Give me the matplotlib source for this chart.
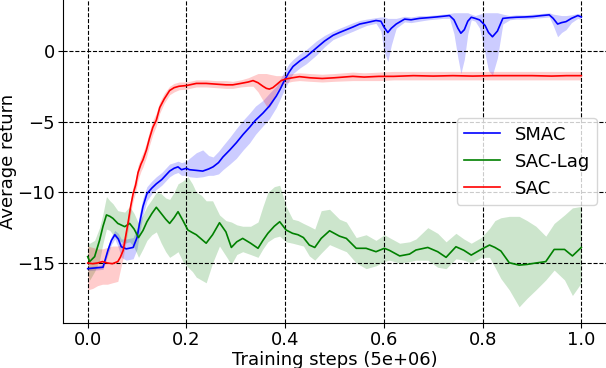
import matplotlib
matplotlib.use("Agg")
import matplotlib.pyplot as plt

# ---------------------------
# Data
# ---------------------------
smac_x = [
    0.000, 0.015, 0.031, 0.041, 0.048, 0.055, 0.062, 0.068, 0.078, 0.092,
    0.100, 0.105, 0.112, 0.120, 0.130, 0.139, 0.150, 0.166, 0.175, 0.183,
    0.190, 0.200, 0.206, 0.220, 0.233, 0.245, 0.254, 0.265, 0.274, 0.288,
    0.301, 0.315, 0.328, 0.340, 0.355, 0.368, 0.382, 0.390, 0.399, 0.408,
    0.416, 0.430, 0.443, 0.463, 0.480, 0.497, 0.510, 0.524, 0.538, 0.551,
    0.565, 0.584, 0.594, 0.600, 0.608, 0.615, 0.625, 0.642, 0.655, 0.672,
    0.690, 0.706, 0.720, 0.733, 0.742, 0.750, 0.756, 0.763, 0.770, 0.777,
    0.785, 0.794, 0.805, 0.812, 0.820, 0.830, 0.841, 0.855, 0.868, 0.885,
    0.902, 0.920, 0.935, 0.943, 0.952, 0.960, 0.969, 0.980, 0.993, 1.000]
smac_mean = [
    -15.40, -15.35, -15.30, -14.10, -13.40, -13.00, -13.30, -13.85, -14.00, -13.90,
    -13.20, -12.20, -11.00, -10.10, -9.70, -9.40, -9.10, -8.50, -8.30, -8.20,
    -8.40, -8.30, -8.40, -8.45, -8.50, -8.35, -8.20, -7.90, -7.50, -7.00,
    -6.50, -5.90, -5.40, -4.90, -4.40, -3.90, -3.20, -2.70, -2.05, -1.50,
    -1.10, -0.70, -0.40, 0.20, 0.70, 1.10, 1.30, 1.50, 1.70, 1.90,
    2.00, 2.15, 2.10, 1.70, 1.30, 1.60, 1.90, 2.25, 2.20, 2.30,
    2.35, 2.40, 2.45, 2.50, 2.20, 1.60, 1.25, 1.50, 2.10, 2.38,
    2.30, 2.19, 1.80, 1.30, 1.00, 1.40, 2.30, 2.35, 2.38, 2.40,
    2.43, 2.50, 2.55, 2.30, 1.90, 2.00, 2.07, 2.30, 2.50, 2.40]
smac_lo = [
    -15.55, -15.50, -15.45, -14.40, -13.70, -13.30, -13.90, -14.60, -14.80, -14.70,
    -14.00, -12.90, -11.60, -10.60, -10.10, -9.80, -9.50, -8.90, -8.70, -8.60,
    -8.80, -8.80, -8.90, -8.95, -8.90, -8.80, -8.80, -8.70, -8.40, -8.00,
    -7.60, -7.00, -6.50, -5.90, -5.30, -4.80, -4.00, -3.40, -2.70, -2.10,
    -1.60, -1.20, -0.90, -0.30, 0.30, 0.80, 1.00, 1.20, 1.40, 1.60,
    1.80, 1.95, 1.40, 0.00, -0.75, 0.40, 1.60, 2.05, 2.00, 2.10,
    2.20, 2.25, 2.30, 2.30, 1.20, -0.50, -1.60, -0.60, 1.20, 2.20,
    2.10, 1.60, -0.20, -1.40, -1.70, -0.50, 1.90, 2.20, 2.25, 2.25,
    2.30, 2.35, 2.40, 1.80, 1.00, 1.30, 1.50, 2.00, 2.30, 2.20]
smac_hi = [
    -15.25, -15.20, -15.10, -13.80, -13.10, -12.70, -12.90, -13.30, -13.30, -13.20,
    -12.50, -11.50, -10.40, -9.60, -9.20, -8.90, -8.60, -8.00, -7.90, -7.80,
    -7.90, -7.80, -7.60, -7.20, -7.00, -7.40, -7.50, -7.10, -6.70, -6.10,
    -5.50, -4.90, -4.40, -3.90, -3.50, -3.00, -2.50, -2.00, -1.40, -0.90,
    -0.60, -0.20, 0.10, 0.70, 1.10, 1.40, 1.60, 1.80, 2.00, 2.15,
    2.25, 2.35, 2.40, 2.40, 2.30, 2.30, 2.30, 2.45, 2.40, 2.50,
    2.50, 2.55, 2.60, 2.65, 2.70, 2.70, 2.70, 2.70, 2.70, 2.60,
    2.50, 2.60, 2.70, 2.70, 2.70, 2.70, 2.60, 2.50, 2.55, 2.55,
    2.60, 2.65, 2.70, 2.60, 2.55, 2.50, 2.50, 2.55, 2.65, 2.60]

lag_x = [
    0.000, 0.004, 0.014, 0.024, 0.031, 0.038, 0.045, 0.051, 0.061, 0.075,
    0.085, 0.094, 0.103, 0.112, 0.120, 0.130, 0.139, 0.149, 0.158, 0.166,
    0.175, 0.183, 0.193, 0.203, 0.212, 0.220, 0.230, 0.240, 0.253, 0.267,
    0.280, 0.291, 0.302, 0.314, 0.330, 0.345, 0.355, 0.365, 0.378, 0.389,
    0.402, 0.415, 0.426, 0.437, 0.449, 0.460, 0.473, 0.490, 0.510, 0.524,
    0.544, 0.564, 0.584, 0.601, 0.611, 0.632, 0.652, 0.665, 0.689, 0.709,
    0.726, 0.746, 0.762, 0.777, 0.797, 0.814, 0.825, 0.837, 0.854, 0.874,
    0.890, 0.908, 0.928, 0.945, 0.966, 0.982, 1.000]
lag_mean = [
    -14.55, -14.90, -14.55, -13.40, -12.40, -11.60, -11.70, -11.84, -12.20, -12.43,
    -12.20, -12.60, -13.20, -12.70, -12.08, -11.50, -11.06, -11.50, -11.90, -12.20,
    -11.80, -11.37, -12.00, -12.67, -12.85, -13.00, -13.30, -13.60, -13.00, -12.15,
    -12.80, -13.90, -13.50, -13.26, -13.60, -13.96, -13.40, -12.90, -12.40, -12.08,
    -12.67, -12.90, -13.00, -13.20, -13.73, -13.90, -13.26, -12.72, -13.10, -13.26,
    -13.96, -13.96, -14.20, -13.96, -14.10, -14.50, -14.37, -14.08, -13.90, -14.20,
    -14.60, -13.85, -14.10, -14.44, -14.04, -13.73, -13.90, -14.15, -14.98, -15.15,
    -15.10, -15.00, -14.90, -14.04, -14.04, -14.50, -13.90]
lag_lo = [
    -15.80, -16.20, -15.60, -14.80, -13.60, -12.60, -12.70, -13.00, -13.40, -13.60,
    -13.50, -13.90, -14.60, -14.00, -13.40, -13.00, -12.80, -13.60, -14.20, -14.60,
    -14.40, -14.20, -14.90, -15.30, -15.60, -16.00, -16.20, -16.40, -15.00, -13.80,
    -14.50, -15.10, -14.40, -14.20, -14.40, -14.60, -14.00, -13.50, -13.20, -13.10,
    -13.50, -13.60, -13.70, -13.80, -14.50, -14.80, -14.30, -13.70, -14.00, -14.20,
    -15.00, -15.40, -15.20, -14.90, -14.80, -15.00, -14.90, -14.80, -14.80, -15.30,
    -15.40, -14.70, -14.80, -15.00, -14.60, -14.60, -15.30, -16.10, -16.90, -18.10,
    -17.50, -16.90, -16.20, -15.50, -16.20, -17.30, -16.40]
lag_hi = [
    -13.60, -13.60, -13.40, -12.50, -11.50, -10.30, -10.60, -10.80, -11.30, -11.40,
    -11.00, -11.50, -12.20, -11.60, -11.00, -10.50, -10.00, -10.10, -10.40, -10.50,
    -10.00, -9.40, -9.20, -8.90, -9.40, -10.00, -10.20, -10.60, -10.60, -11.60,
    -12.00, -12.10, -12.30, -12.40, -12.40, -12.10, -11.00, -10.00, -9.60, -9.50,
    -11.00, -11.90, -12.00, -12.20, -12.40, -12.60, -11.30, -11.20, -11.90, -12.10,
    -13.20, -13.00, -13.40, -13.00, -13.20, -13.60, -13.50, -13.30, -12.50, -12.90,
    -13.50, -12.90, -13.30, -13.60, -13.20, -12.55, -12.00, -11.80, -11.70, -11.70,
    -12.00, -12.40, -13.10, -12.20, -11.60, -11.10, -11.00]

sac_x = [
    0.000, 0.010, 0.020, 0.030, 0.040, 0.050, 0.061, 0.066, 0.072, 0.077,
    0.082, 0.087, 0.092, 0.097, 0.102, 0.108, 0.112, 0.119, 0.125, 0.132,
    0.139, 0.146, 0.155, 0.166, 0.175, 0.185, 0.200, 0.220, 0.240, 0.260,
    0.280, 0.294, 0.310, 0.325, 0.335, 0.345, 0.355, 0.362, 0.368, 0.375,
    0.382, 0.392, 0.402, 0.415, 0.429, 0.450, 0.475, 0.500, 0.537, 0.560,
    0.590, 0.620, 0.660, 0.700, 0.740, 0.780, 0.820, 0.860, 0.900, 0.940,
    0.970, 1.000]
sac_mean = [
    -15.00, -15.05, -15.00, -14.90, -15.00, -15.05, -14.90, -14.60, -14.10, -13.10,
    -12.10, -11.00, -10.10, -9.50, -8.60, -8.00, -7.70, -7.00, -6.20, -5.40,
    -4.90, -4.00, -3.40, -2.80, -2.60, -2.50, -2.45, -2.30, -2.30, -2.35,
    -2.40, -2.40, -2.30, -2.20, -2.10, -2.25, -2.50, -2.65, -2.70, -2.60,
    -2.40, -2.10, -1.98, -1.90, -1.82, -1.90, -1.95, -1.90, -1.80, -1.85,
    -1.80, -1.80, -1.75, -1.78, -1.75, -1.78, -1.75, -1.75, -1.75, -1.78,
    -1.75, -1.75]
sac_lo = [
    -16.90, -16.80, -16.60, -16.50, -16.50, -16.40, -16.30, -15.50, -14.60, -13.60,
    -12.60, -11.50, -10.60, -10.00, -9.10, -8.50, -8.20, -7.50, -6.70, -5.90,
    -5.30, -4.40, -3.70, -3.10, -2.90, -2.75, -2.70, -2.55, -2.55, -2.60,
    -2.65, -2.65, -2.55, -2.50, -2.50, -2.90, -3.50, -3.90, -4.00, -3.60,
    -2.90, -2.40, -2.25, -2.15, -2.10, -2.15, -2.20, -2.15, -2.10, -2.10,
    -2.10, -2.05, -2.05, -2.05, -2.05, -2.05, -2.05, -2.05, -2.05, -2.05,
    -2.05, -2.05]
sac_hi = [
    -13.80, -13.90, -14.00, -14.00, -13.90, -13.80, -13.80, -13.70, -13.50, -12.60,
    -11.60, -10.50, -9.60, -9.00, -8.10, -7.50, -7.20, -6.50, -5.70, -4.90,
    -4.40, -3.60, -3.00, -2.50, -2.30, -2.20, -2.20, -2.05, -2.05, -2.10,
    -2.10, -2.15, -2.05, -1.90, -1.75, -1.60, -1.60, -1.60, -1.65, -1.70,
    -1.75, -1.75, -1.65, -1.60, -1.55, -1.60, -1.65, -1.60, -1.50, -1.55,
    -1.50, -1.45, -1.45, -1.45, -1.45, -1.45, -1.45, -1.45, -1.45, -1.45,
    -1.45, -1.45]

labels = ["SMAC", "SAC-Lag", "SAC"]

# ---------------------------
# Plot
# ---------------------------
plt.rcParams["font.size"] = 13
plt.rcParams["xtick.major.pad"] = 2.5
plt.rcParams["ytick.major.pad"] = 2.5
fig = plt.figure(figsize=(6.06, 3.68), dpi=100)
ax = fig.add_axes([0.104, 0.122, 0.896, 0.878])

series = [
    (smac_x, smac_mean, smac_lo, smac_hi, "blue"),
    (lag_x, lag_mean, lag_lo, lag_hi, "green"),
    (sac_x, sac_mean, sac_lo, sac_hi, "red"),
]
for (x, m, lo, hi, c), lab in zip(series, labels):
    ax.plot(x, m, color=c, lw=1.2, label=lab)
    ax.fill_between(x, lo, hi, color=c, alpha=0.2, lw=0)

ax.set_xlim(-0.05, 1.05)
ax.set_ylim(-19.25, 3.6)
ax.set_xticks([0.0, 0.2, 0.4, 0.6, 0.8, 1.0])
ax.set_yticks([-15, -10, -5, 0])
ax.grid(True, color="black", linestyle="--", linewidth=0.8)
ax.spines["top"].set_visible(False)
ax.spines["right"].set_visible(False)
ax.set_xlabel("Training steps (5e+06)", labelpad=1)
ax.set_ylabel("Average return")
ax.yaxis.set_label_coords(-0.085, 0.5)
ax.legend(loc="center right")

fig.savefig("out.png", dpi=100)
